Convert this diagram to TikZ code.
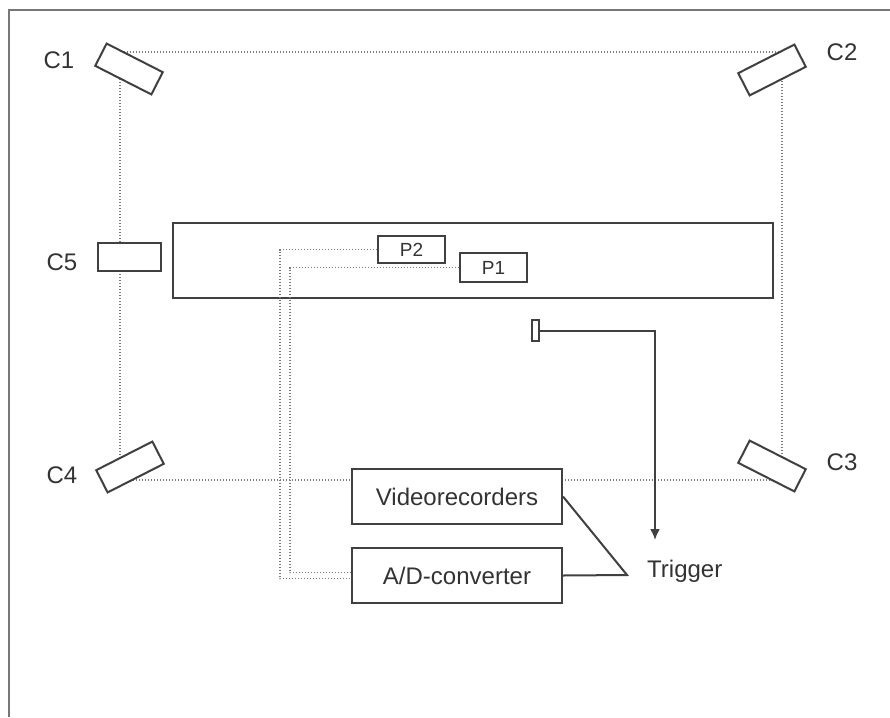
\documentclass[tikz,border=0pt]{standalone}
\usepackage{fontspec}
\setmainfont{Liberation Sans}
\usetikzlibrary{arrows.meta}
\definecolor{boxgray}{HTML}{404040}
\definecolor{txtgray}{HTML}{333333}
\definecolor{dotgray}{HTML}{7A7A7A}
\definecolor{framegray}{HTML}{777777}
\begin{document}
\begin{tikzpicture}[x=1pt,y=-1pt,
  box/.style={draw=boxgray, line width=2pt, fill=white, inner sep=0pt},
  cam/.style={box, minimum width=63pt, minimum height=25pt},
  lbl/.style={text=txtgray, font=\fontsize{24}{28}\selectfont, inner sep=0pt},
  plbl/.style={text=txtgray, font=\fontsize{19}{22}\selectfont},
  dotline/.style={draw=dotgray, line width=1.6pt, dash pattern=on 1.4pt off 1.6pt},
  wire/.style={draw=boxgray, line width=2pt}
]
\useasboundingbox (0,0) rectangle (890,717);
\fill[white] (0,0) rectangle (890,717);
% outer frame
\draw[framegray, line width=2.5pt] (9,717) -- (9,10) -- (890,10);

% dotted camera square
\coordinate (sqa) at (120,52);
\coordinate (sqb) at (782,480);
\draw[dotline] (sqa) rectangle (sqb);

% cameras
\node[cam, rotate=-27] (c1) at (129,69) {};
\node[cam, rotate=27] (c2) at (772,70) {};
\node[cam, rotate=-27] (c3) at (772,466) {};
\node[cam, rotate=27] (c4) at (130,467) {};
\node[box, minimum width=63pt, minimum height=28pt] (c5) at (129.5,257) {};

\node[lbl] (l1) at (59,60) {C1};
\node[lbl] (l2) at (842,52) {C2};
\node[lbl] (l3) at (842,462) {C3};
\node[lbl] (l4) at (62,475) {C4};
\node[lbl] (l5) at (62,262) {C5};

% table
\node[box, minimum width=600pt, minimum height=75pt] (table) at (473,260.5) {};

% plates
\node[box, minimum width=67pt, minimum height=27pt, plbl] (p2) at (411.5,249.5) {P2};
\node[box, minimum width=67pt, minimum height=29pt, plbl] (p1) at (493.5,267.5) {P1};

% devices
\node[box, minimum width=210pt, minimum height=55pt, lbl] (vr) at (457,496.5) {Videorecorders};
\node[box, minimum width=210pt, minimum height=55pt, lbl] (ad) at (457,575.5) {A/D-converter};

% plate cables
\draw[dotline] (p2.west) -- ++(-97,0) |- ([yshift=-3pt]ad.west);
\draw[dotline] (p1.west) -- ++(-169,0) |- ([yshift=3pt]ad.west);

% trigger
\node[lbl, anchor=base west] (trig) at (647,577) {Trigger};
\coordinate (j) at (627,575);
\draw[wire] (vr.east) -- (j) -- (ad.east);

% sensor and arrow
\node[draw=boxgray, line width=1.5pt, fill=white, inner sep=0pt, minimum width=7pt, minimum height=21pt] (sens) at (535.5,330.5) {};
\coordinate (tip) at (655,540);
\draw[wire, -{Latex[length=11pt,width=10pt]}] (sens.east) -| (tip);
\end{tikzpicture}
\end{document}
